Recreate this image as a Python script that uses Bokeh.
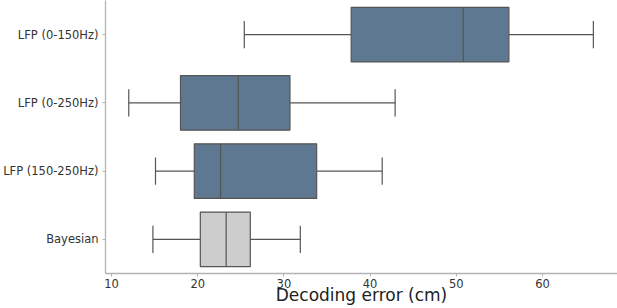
from bokeh.plotting import figure
from bokeh.models import ColumnDataSource, FactorRange, Range1d, FixedTicker
from bokeh.transform import dodge
from bokeh.embed import file_html
from bokeh.resources import INLINE

categories = ["LFP (0-150Hz)", "LFP (0-250Hz)", "LFP (150-250Hz)", "Bayesian"]
whisker_low = [25.4, 12.0, 15.1, 14.8]
q1 = [37.8, 18.0, 19.6, 20.3]
median = [50.8, 24.7, 22.65, 23.3]
q3 = [56.1, 30.7, 33.8, 26.1]
whisker_high = [65.9, 42.9, 41.4, 31.9]
fill_colors = ["#5e7891", "#5e7891", "#5e7891", "#cdcdcd"]
x_ticks = [10, 20, 30, 40, 50, 60]

src = ColumnDataSource(dict(cat=categories, lo=whisker_low, q1=q1, med=median,
                            q3=q3, hi=whisker_high, color=fill_colors))

p = figure(width=617, height=308, output_backend="svg", toolbar_location=None,
           y_range=FactorRange(factors=list(reversed(categories)), range_padding=0),
           x_range=Range1d(9.3, 68.7),
           min_border_left=104, min_border_right=0, min_border_top=0, min_border_bottom=35)

EDGE = "#555555"
LW = 1.2
yr = p.y_range

# whiskers
p.segment(x0="lo", y0="cat", x1="q1", y1="cat", source=src, line_color=EDGE, line_width=LW)
p.segment(x0="q3", y0="cat", x1="hi", y1="cat", source=src, line_color=EDGE, line_width=LW)
# caps
p.segment(x0="lo", y0=dodge("cat", -0.2, range=yr), x1="lo", y1=dodge("cat", 0.2, range=yr),
          source=src, line_color=EDGE, line_width=LW)
p.segment(x0="hi", y0=dodge("cat", -0.2, range=yr), x1="hi", y1=dodge("cat", 0.2, range=yr),
          source=src, line_color=EDGE, line_width=LW)
# boxes
p.hbar(y="cat", left="q1", right="q3", height=0.8, source=src, fill_color="color",
       line_color=EDGE, line_width=LW)
# medians
p.segment(x0="med", y0=dodge("cat", -0.4, range=yr), x1="med", y1=dodge("cat", 0.4, range=yr),
          source=src, line_color=EDGE, line_width=LW)

p.outline_line_color = None
p.grid.visible = False
p.background_fill_color = "white"
p.border_fill_color = "white"

FONT = "DejaVu Sans"
AX = "#b3b3b3"
for ax in (p.xaxis[0], p.yaxis[0]):
    ax.axis_line_color = AX
    ax.axis_line_width = 1.3
    ax.major_tick_line_color = AX
    ax.major_tick_in = 0
    ax.major_tick_out = 3
    ax.minor_tick_line_color = None
    ax.major_label_text_font = FONT
    ax.major_label_text_color = "#333333"
    ax.major_label_text_font_size = "11.5px"

p.xaxis.ticker = FixedTicker(ticks=x_ticks)
p.xaxis.major_label_standoff = 2
p.yaxis.major_label_standoff = 4
p.xaxis.axis_label = "Decoding error (cm)"
p.xaxis.axis_label_text_font = FONT
p.xaxis.axis_label_text_font_style = "normal"
p.xaxis.axis_label_text_font_size = "17px"
p.xaxis.axis_label_text_color = "#222222"
p.xaxis.axis_label_standoff = -6

open("out.html", "w").write(file_html(p, INLINE))
